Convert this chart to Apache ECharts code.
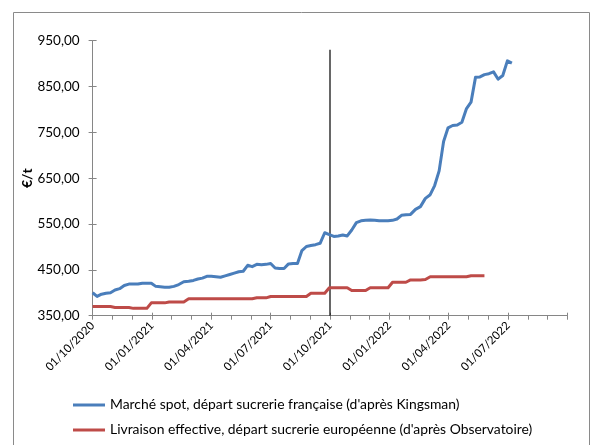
<!DOCTYPE html>
<html>
<head>
<meta charset="utf-8">
<script src="https://cdn.jsdelivr.net/npm/echarts@6/dist/echarts.min.js"></script>
<style>html,body{margin:0;padding:0;background:#fff}#c{width:595px;height:445px}</style>
</head>
<body>
<div id="c"></div>
<script>
// Weekly series, first week starting 01/10/2020
const firstWeek = '2020-10-01';
const blueName = "Marché spot, départ sucrerie française (d'après Kingsman)";
const redName = "Livraison effective, départ sucrerie européenne (d'après Observatoire)";
const blueValues = [400,392,397,399,400,406,409,416,419,419,
  419,421,421,421,414,413,412,412,414,418,
  424,425,427,430,432,436,436,435,434,437,
  440,443,446,447,460,457,462,461,462,464,
  454,453,453,463,464,464,492,501,503,505,
  508,531,527,523,524,526,524,537,553,557,
  558,559,558,557,557,557,558,561,569,570,
  571,582,588,606,614,634,666,730,760,765,
  766,772,802,816,870,871,876,878,882,866,
  874,906,901];
const redValues = [370,370,370,370,370,368,368,368,368,366,
  366,366,366,378,378,378,378,380,380,380,
  380,387,387,387,387,387,387,387,387,387,
  387,387,387,387,387,387,389,389,389,392,
  392,392,392,392,392,392,392,392,399,399,
  399,399,411,411,411,411,411,405,405,405,
  405,411,411,411,411,411,423,423,423,423,
  428,428,428,429,435,435,435,435,435,435,
  435,435,435,437,437,437,437];
const markerDate = '2021-10-01';
const markerRange = [350, 930];
const xTickLabels = ['01/10/2020','01/01/2021','01/04/2021','01/07/2021','01/10/2021','01/01/2022','01/04/2022','01/07/2022'];
const yTickValues = [350,450,550,650,750,850,950];
const yTickLabels = ['350,00','450,00','550,00','650,00','750,00','850,00','950,00'];

function monthIndex(d) {
  const y = d.getUTCFullYear(), m = d.getUTCMonth(), day = d.getUTCDate();
  const dim = new Date(Date.UTC(y, m + 1, 0)).getUTCDate();
  return (y - 2020) * 12 + (m - 9) + (day - 1) / dim;
}
function weekPos(i) {
  const d = new Date(firstWeek + 'T00:00:00Z');
  d.setUTCDate(d.getUTCDate() + 7 * i);
  return monthIndex(d);
}
const blueData = blueValues.map((v, i) => [weekPos(i), v]);
const redData = redValues.map((v, i) => [weekPos(i), v]);
const mx = monthIndex(new Date(markerDate + 'T00:00:00Z'));
const markerData = [[mx, markerRange[0]], [mx, markerRange[1]]];

const FONT = 'Lato';
const AX = '#868686';
const chart = echarts.init(document.getElementById('c'), null, {renderer: 'canvas'});
chart.setOption({
  animation: false,
  textStyle: {fontFamily: FONT},
  graphic: [{type: 'rect', shape: {x: 13.5, y: 12.5, width: 576, height: 445}, style: {fill: 'none', stroke: '#8a8a8a', lineWidth: 1}, silent: true}],
  grid: {left: 92.6, right: 27.6, top: 40.7, bottom: 129.3, containLabel: false},
  xAxis: [{
    type: 'value', min: 0, max: 24, interval: 3,
    axisLine: {show: true, lineStyle: {color: AX, width: 1}},
    axisTick: {show: true, length: 4, lineStyle: {color: AX}},
    minorTick: {show: true, splitNumber: 3, length: 4, lineStyle: {color: AX}},
    splitLine: {show: false},
    axisLabel: {rotate: 45, margin: 8, fontSize: 11.5, color: '#000', fontFamily: FONT,
      formatter: v => xTickLabels[Math.round(v / 3)] || ''}
  }, {
    type: 'value', min: 0, max: 24, interval: 3, position: 'bottom',
    axisLine: {show: false}, axisTick: {show: true, inside: true, length: 3, lineStyle: {color: AX}},
    axisLabel: {show: false}, splitLine: {show: false}
  }],
  yAxis: [{
    type: 'value', min: 350, max: 950, interval: 100,
    name: '€/t', nameLocation: 'middle', nameGap: 58, nameRotate: 90, nameMoveOverlap: false,
    nameTextStyle: {fontWeight: 'bold', fontSize: 14, color: '#000', fontFamily: FONT},
    axisLine: {show: true, lineStyle: {color: AX, width: 1}},
    axisTick: {show: true, length: 4, lineStyle: {color: AX}},
    splitLine: {show: false},
    axisLabel: {margin: 13, fontSize: 13.5, color: '#000', fontFamily: FONT,
      formatter: v => yTickLabels[yTickValues.indexOf(v)] || ''}
  }, {
    type: 'value', min: 350, max: 950, interval: 100, position: 'left',
    axisLine: {show: false}, axisTick: {show: true, inside: true, length: 4, lineStyle: {color: AX}},
    axisLabel: {show: false}, splitLine: {show: false}
  }],
  legend: {
    orient: 'vertical', left: 68, top: 393, itemGap: 11,
    itemWidth: 32, itemHeight: 3, icon: 'rect',
    textStyle: {fontSize: 13.9, color: '#000', fontFamily: FONT},
    data: [blueName, redName]
  },
  series: [
    {name: blueName, type: 'line', data: blueData, showSymbol: false, symbol: 'none',
      lineStyle: {color: '#4A7EBB', width: 3, join: 'round'}, itemStyle: {color: '#4A7EBB'}},
    {name: redName, type: 'line', data: redData, showSymbol: false, symbol: 'none',
      lineStyle: {color: '#BE4B48', width: 3, join: 'round'}, itemStyle: {color: '#BE4B48'}},
    {name: 'marker', type: 'line', data: markerData, showSymbol: false, symbol: 'none',
      lineStyle: {color: '#000', width: 1.2}, z: 1}
  ]
});
</script>
</body>
</html>
